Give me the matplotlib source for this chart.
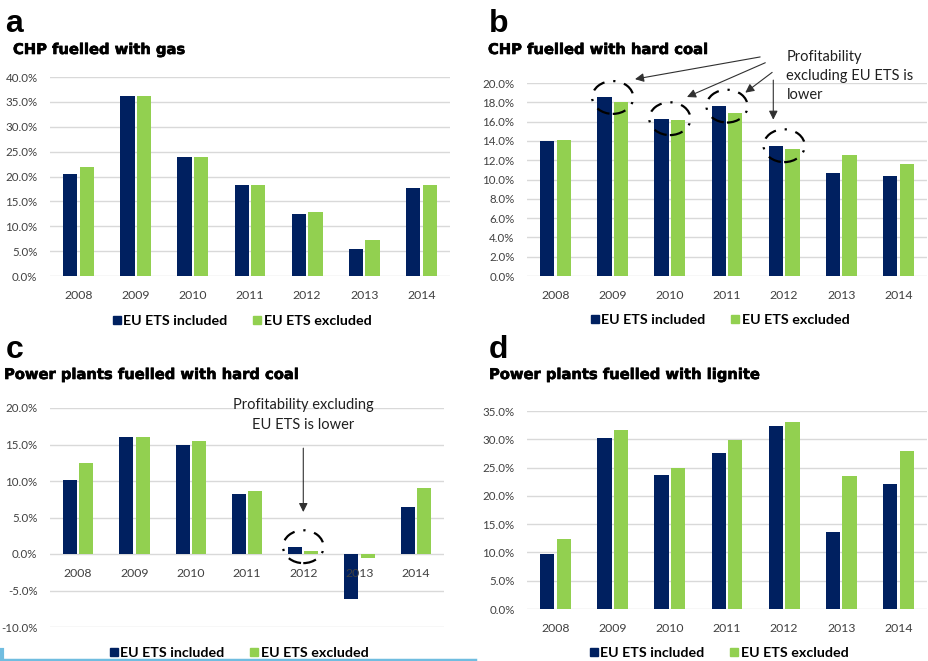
import matplotlib
matplotlib.use("Agg")
import matplotlib.pyplot as plt
import matplotlib.patheffects as pe
from matplotlib.patches import Ellipse
from matplotlib.lines import Line2D
import numpy as np

W, H = 929, 661

years = ["2008", "2009", "2010", "2011", "2012", "2013", "2014"]

gas_incl = [20.5, 36.2, 23.9, 18.2, 12.5, 5.5, 17.7]
gas_excl = [22.0, 36.2, 24.0, 18.3, 12.9, 7.3, 18.3]

chp_coal_incl = [14.0, 18.5, 16.3, 17.6, 13.5, 10.7, 10.4]
chp_coal_excl = [14.1, 18.0, 16.2, 16.9, 13.2, 12.5, 11.6]

pp_coal_incl = [10.2, 16.0, 14.9, 8.2, 1.0, -6.1, 6.4]
pp_coal_excl = [12.5, 16.0, 15.5, 8.6, 0.4, -0.6, 9.0]

lignite_incl = [9.7, 30.2, 23.6, 27.5, 32.4, 13.6, 22.1]
lignite_excl = [12.4, 31.7, 25.0, 29.9, 33.1, 23.5, 28.0]

series_names = ["EU ETS included", "EU ETS excluded"]

NAVY = "#002060"
GREEN = "#92d050"
GRID = "#d9d9d9"
BODY_FONT = ["Lato", "DejaVu Sans"]
TITLE_FONT = ["DejaVu Sans"]
LETTER_FONT = ["Liberation Sans", "DejaVu Sans"]


def fx(x):
    return x / W


def fy(y):
    return 1 - y / H


def rect(left, top, right, bottom):
    return [fx(left), fy(bottom), (right - left) / W, (bottom - top) / H]


def draw_panel(fig, box, letter, letter_xy, title, title_xy, incl, excl,
               ymin, ymax, step, legend_xy):
    ax = fig.add_axes(rect(*box))
    x = np.arange(len(years))
    width = 0.25
    ax.bar(x - 0.145, incl, width, color=NAVY, label=series_names[0], zorder=2)
    ax.bar(x + 0.145, excl, width, color=GREEN, label=series_names[1], zorder=2)

    # year labels sit on the zero line (moving the spine resets the ticks,
    # so do it before styling them)
    for s in ax.spines.values():
        s.set_visible(False)
    if ymin < 0:
        ax.spines["bottom"].set_position(("data", 0))

    ax.set_xlim(-0.5, len(years) - 0.5)
    ax.set_ylim(ymin, ymax)
    ticks = np.arange(ymin, ymax + step / 2, step)
    ax.set_yticks(ticks)
    ax.set_yticklabels([f"{t:.1f}%" for t in ticks], family=BODY_FONT,
                       fontsize=8.3, color="#404040")
    ax.set_xticks(x)
    ax.set_xticklabels(years, family=BODY_FONT, fontsize=8.8, color="#404040")
    ax.tick_params(length=0)
    ax.tick_params(axis="y", pad=9)
    ax.tick_params(axis="x", pad=10)
    ax.yaxis.grid(True, color=GRID, lw=1)
    ax.set_axisbelow(True)
    # year labels stay on top of negative bars
    ax.xaxis.set_zorder(3)

    fig.text(fx(letter_xy[0]), fy(letter_xy[1]), letter, family=LETTER_FONT,
             fontsize=23, fontweight="bold", va="baseline", ha="left")
    fig.text(fx(title_xy[0]), fy(title_xy[1]), title, family=TITLE_FONT,
             fontsize=10.6, fontweight="heavy", va="baseline", ha="left",
             path_effects=[pe.withStroke(linewidth=0.45, foreground="black")])

    handles = [
        Line2D([], [], marker="s", ls="none", color=NAVY, markersize=5.5),
        Line2D([], [], marker="s", ls="none", color=GREEN, markersize=5.5),
    ]
    fig.legend(handles, series_names, loc="center",
               bbox_to_anchor=(fx(legend_xy[0]), fy(legend_xy[1])),
               ncol=2, frameon=False, handlelength=0.6, handletextpad=0.15,
               columnspacing=1.8,
               prop={"family": BODY_FONT, "size": 10.3, "weight": "bold"})
    return ax


def circle_pair(ax, i, incl, excl, height):
    ax.add_patch(Ellipse((i, max(incl[i], excl[i])), 0.72, height, fill=False,
                         ec="black", lw=1.6, ls=(0, (6, 4, 1, 4)),
                         clip_on=False, zorder=4))


fig = plt.figure(figsize=(W / 100, H / 100), dpi=100)

draw_panel(fig, (50, 77, 450, 276), "a", (5, 32), "CHP fuelled with gas",
           (13, 54), gas_incl, gas_excl, 0, 40, 5, (242, 321))

ax_b = draw_panel(fig, (527, 83, 927, 276), "b", (489, 32),
                  "CHP fuelled with hard coal", (488, 54),
                  chp_coal_incl, chp_coal_excl, 0, 20, 2, (720, 320))

ax_c = draw_panel(fig, (50, 408, 444, 627), "c", (6, 358),
                  "Power plants fuelled with hard coal", (4, 379),
                  pp_coal_incl, pp_coal_excl, -10, 20, 5, (239, 653))

draw_panel(fig, (527, 411, 927, 609), "d", (489, 358),
           "Power plants fuelled with lignite", (489, 379),
           lignite_incl, lignite_excl, 0, 35, 5, (719, 653))

# panel b: lower profitability without EU ETS in 2009-2012
arrow = dict(arrowstyle="-|>", color="#303030", lw=0.8, mutation_scale=13,
             shrinkA=0, shrinkB=0)
for i in [1, 2, 3, 4]:
    circle_pair(ax_b, i, chp_coal_incl, chp_coal_excl, 3.4)
ax_b.annotate("", xy=(1.39, 20.4), xytext=(3.58, 22.7), arrowprops=arrow,
              annotation_clip=False)
ax_b.annotate("", xy=(2.30, 18.55), xytext=(3.67, 22.1), arrowprops=arrow,
              annotation_clip=False)
ax_b.annotate("", xy=(3.32, 19.0), xytext=(3.79, 21.1), arrowprops=arrow,
              annotation_clip=False)
ax_b.annotate("", xy=(3.81, 16.2), xytext=(3.81, 20.3), arrowprops=arrow,
              annotation_clip=False)
ax_b.text(4.04, 23.4, "Profitability\nexcluding EU ETS is\nlower",
          family=BODY_FONT, fontsize=10.5, va="top", ha="left",
          linespacing=1.45, color="#202020")

# panel c: 2012 highlight
circle_pair(ax_c, 4, pp_coal_incl, pp_coal_excl, 4.5)
ax_c.annotate("", xy=(4, 5.75), xytext=(4, 14.5), arrowprops=arrow,
              annotation_clip=False)
ax_c.text(4, 19.05, "Profitability excluding\nEU ETS is lower",
          family=BODY_FONT, fontsize=10.5, va="center", ha="center",
          linespacing=1.55, color="#202020")

# thin blue frame edge along the bottom left
fig.add_artist(Line2D([0, fx(475)], [fy(659.5), fy(659.5)], color="#70bde0",
                      lw=2.5, transform=fig.transFigure))
fig.add_artist(Line2D([fx(2), fx(2)], [fy(650), fy(661)], color="#70bde0",
                      lw=3, transform=fig.transFigure))

fig.savefig("out.png", dpi=100)
